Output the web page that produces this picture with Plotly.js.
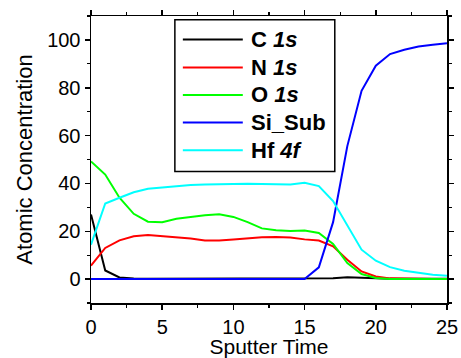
<!DOCTYPE html>
<html>
<head>
<meta charset="utf-8">
<script src="https://cdn.plot.ly/plotly-3.0.1.min.js"></script>
<style>html,body{margin:0;padding:0;background:#fff;}#chart{width:461px;height:358px;}</style>
</head>
<body>
<div id="chart"></div>
<script>
var time = [0,1,2,3,4,5,6,7,8,9,10,11,12,13,14,15,16,17,18,19,20,21,22,23,24,25];
var c1s  = [27,3.6,0.7,0.2,0.1,0.1,0.1,0.1,0.1,0.1,0.1,0.1,0.1,0.1,0.1,0.1,0.1,0.3,0.8,0.5,0.3,0.1,0.1,0.1,0.1,0.1];
var n1s  = [5.6,13,16.2,17.9,18.4,18,17.5,17,16.1,16.1,16.5,17,17.5,17.6,17.4,16.6,16.1,13.7,8.1,3.2,1.1,0.3,0.1,0,0,0];
var o1s  = [49.2,43.7,34,27.3,24,23.8,25.2,26.1,26.7,27.1,26,23.8,21.2,20.4,20.1,20.3,19.3,14.7,6.7,2.1,0.5,0,0,0,0,0];
var siSub= [0,0,0,0,0,0,0,0,0,0,0,0,0,0,0,0,4.9,23.8,55.6,78.7,89.2,94.1,95.9,97.2,98,98.6];
var hf4f = [14.4,31.6,34,36.3,37.8,38.4,38.9,39.3,39.5,39.8,39.8,39.9,39.7,39.7,39.5,40.3,38.9,32.6,22.4,12.3,7.7,5,3.5,2.5,1.8,1.4];
var names = ['C <i>1s</i>','N <i>1s</i>','O <i>1s</i>','Si_Sub','Hf <i>4f</i>'];
var colors = ['#000000','#ff0000','#00ff00','#0000ff','#00ffff'];
var series = [c1s,n1s,o1s,siSub,hf4f];
var xTicks = [0,5,10,15,20,25];
var yTicks = [0,20,40,60,80,100];
var xTitle = 'Sputter Time';
var yTitle = 'Atomic Concentration';

var FONT = 'Liberation Sans, Arial, sans-serif';

var traces = series.map(function(s,i){
  return {x:time, y:s, type:'scatter', mode:'lines', name:names[i],
          line:{color:colors[i], width:2}, showlegend:false};
});

// custom legend, placed in axis units
var legBox = {x0:5.89, x1:17.12, y0:45.0, y1:108.4};
var legLineX = [6.45, 10.66];
var legTextX = 11.08;
var legRowsY = [100.2, 88.5, 77.0, 65.5, 53.9];

var shapes = [{type:'rect', xref:'x', yref:'y', x0:legBox.x0, x1:legBox.x1, y0:legBox.y0, y1:legBox.y1,
               line:{color:'#000', width:1.5}, fillcolor:'#fff', layer:'above'}];
var annotations = [];
names.forEach(function(n,i){
  shapes.push({type:'line', xref:'x', yref:'y', x0:legLineX[0], x1:legLineX[1], y0:legRowsY[i], y1:legRowsY[i],
               line:{color:colors[i], width:2}, layer:'above'});
  annotations.push({xref:'x', yref:'y', x:legTextX, y:legRowsY[i], xanchor:'left', yanchor:'middle',
                    text:'<b>'+n+'</b>', showarrow:false,
                    font:{family:FONT, size:22, color:'#000'}});
});

var axisCommon = {
  showline:true, linecolor:'#000', linewidth:1.5, mirror:'ticks',
  ticks:'outside', ticklen:5, tickwidth:1.5, tickcolor:'#000',
  showgrid:false, zeroline:false,
  tickfont:{family:FONT, size:20, color:'#000'},
  minor:{ticks:'outside', ticklen:3, tickwidth:1.2, tickcolor:'#000', showgrid:false}
};

var layout = {
  width:461, height:358,
  margin:{l:91, r:14, t:16, b:55},
  paper_bgcolor:'#fff', plot_bgcolor:'#fff',
  showlegend:false,
  shapes:shapes, annotations:annotations,
  xaxis:Object.assign({}, axisCommon, {
    range:[0,25], tickvals:xTicks, ticktext:xTicks.map(String),
    minor:Object.assign({}, axisCommon.minor, {dtick:2.5, tick0:0}),
    title:{text:xTitle, standoff:3, font:{family:FONT, size:21, color:'#000'}}
  }),
  yaxis:Object.assign({}, axisCommon, {
    range:[-10,110], tickvals:yTicks, ticktext:yTicks.map(String),
    minor:Object.assign({}, axisCommon.minor, {dtick:10, tick0:0}),
    title:{text:yTitle, standoff:8, font:{family:FONT, size:22, color:'#000'}}
  })
};

Plotly.newPlot('chart', traces, layout, {displayModeBar:false, staticPlot:true});
</script>
</body>
</html>
